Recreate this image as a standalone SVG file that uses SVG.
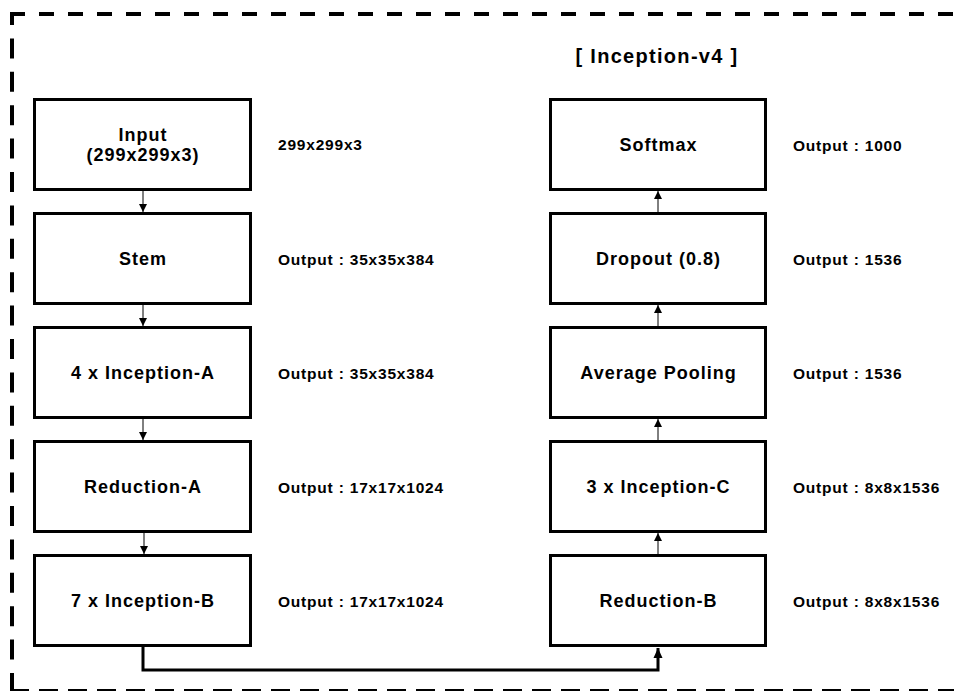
<svg xmlns="http://www.w3.org/2000/svg" width="954" height="691" viewBox="0 0 954 691">
<style>
  .box { fill: #fff; stroke: #000; stroke-width: 3; }
  .lbl { font-family: "Liberation Sans", Arial, sans-serif; font-weight: bold; font-size: 18px; letter-spacing: 1px; text-anchor: middle; fill: #000; }
  .out { font-family: "Liberation Sans", Arial, sans-serif; font-weight: bold; font-size: 15.5px; letter-spacing: 0.8px; fill: #000; }
  .title { font-family: "Liberation Sans", Arial, sans-serif; font-weight: bold; font-size: 20px; letter-spacing: 1.3px; text-anchor: middle; fill: #000; }
  .thin { stroke: #000; stroke-width: 1; fill: none; }
  .thick { stroke: #000; stroke-width: 3; fill: none; }
</style>
<defs>
  <marker id="ah" markerWidth="8" markerHeight="8" refX="8" refY="4" orient="auto" markerUnits="userSpaceOnUse">
    <path d="M0,0 L8,4 L0,8 Z" fill="#000"/>
  </marker>
  <marker id="ahb" markerWidth="10" markerHeight="10" refX="10" refY="5" orient="auto" markerUnits="userSpaceOnUse">
    <path d="M0,0.5 L10,5 L0,9.5 Z" fill="#000"/>
  </marker>
</defs>
<rect width="954" height="691" fill="#fff"/>
<g id="border">
  <line x1="10" y1="14" x2="954" y2="14" stroke="#000" stroke-width="4" stroke-dasharray="15 14"/>
  <line x1="12" y1="12" x2="12" y2="691" stroke="#000" stroke-width="4" stroke-dasharray="20 13.4" stroke-dashoffset="7"/>
  <line x1="10" y1="690" x2="954" y2="690" stroke="#000" stroke-width="2" stroke-dasharray="19 10"/>
</g>
<text class="title" x="657" y="63">[ Inception-v4 ]</text>
<g id="connectors">
  <line class="thin" x1="143" y1="191" x2="143" y2="212" marker-end="url(#ah)"/>
  <line class="thin" x1="143" y1="305" x2="143" y2="326" marker-end="url(#ah)"/>
  <line class="thin" x1="143" y1="419" x2="143" y2="440" marker-end="url(#ah)"/>
  <line class="thin" x1="144" y1="533" x2="144" y2="554" marker-end="url(#ah)"/>
  <path class="thick" d="M143,647 V670 H658 V648" marker-end="url(#ahb)"/>
  <line class="thin" x1="658" y1="554" x2="658" y2="533" marker-end="url(#ah)"/>
  <line class="thin" x1="658" y1="440" x2="658" y2="419" marker-end="url(#ah)"/>
  <line class="thin" x1="658" y1="326" x2="658" y2="305" marker-end="url(#ah)"/>
  <line class="thin" x1="658" y1="212" x2="658" y2="191" marker-end="url(#ah)"/>
</g>
<g id="input">
  <rect class="box" x="34.5" y="99.5" width="216" height="90"/>
  <text class="lbl" x="143" y="141">Input</text>
  <text class="lbl" x="143" y="161">(299x299x3)</text>
  <text class="out" x="278" y="150">299x299x3</text>
</g>
<g id="stem">
  <rect class="box" x="34.5" y="213.5" width="216" height="90"/>
  <text class="lbl" x="143" y="265">Stem</text>
  <text class="out" x="278" y="265">Output : 35x35x384</text>
</g>
<g id="inceptionA">
  <rect class="box" x="34.5" y="327.5" width="216" height="90"/>
  <text class="lbl" x="143" y="379">4 x Inception-A</text>
  <text class="out" x="278" y="379">Output : 35x35x384</text>
</g>
<g id="reductionA">
  <rect class="box" x="34.5" y="441.5" width="216" height="90"/>
  <text class="lbl" x="143" y="493">Reduction-A</text>
  <text class="out" x="278" y="493">Output : 17x17x1024</text>
</g>
<g id="inceptionB">
  <rect class="box" x="34.5" y="555.5" width="216" height="90"/>
  <text class="lbl" x="143" y="607">7 x Inception-B</text>
  <text class="out" x="278" y="607">Output : 17x17x1024</text>
</g>
<g id="softmax">
  <rect class="box" x="550.5" y="99.5" width="215" height="90"/>
  <text class="lbl" x="658.5" y="151">Softmax</text>
  <text class="out" x="793" y="151">Output : 1000</text>
</g>
<g id="dropout">
  <rect class="box" x="550.5" y="213.5" width="215" height="90"/>
  <text class="lbl" x="658.5" y="265">Dropout (0.8)</text>
  <text class="out" x="793" y="265">Output : 1536</text>
</g>
<g id="avgpool">
  <rect class="box" x="550.5" y="327.5" width="215" height="90"/>
  <text class="lbl" x="658.5" y="379">Average Pooling</text>
  <text class="out" x="793" y="379">Output : 1536</text>
</g>
<g id="inceptionC">
  <rect class="box" x="550.5" y="441.5" width="215" height="90"/>
  <text class="lbl" x="658.5" y="493">3 x Inception-C</text>
  <text class="out" x="793" y="493">Output : 8x8x1536</text>
</g>
<g id="reductionB">
  <rect class="box" x="550.5" y="555.5" width="215" height="90"/>
  <text class="lbl" x="658.5" y="607">Reduction-B</text>
  <text class="out" x="793" y="607">Output : 8x8x1536</text>
</g>
</svg>
